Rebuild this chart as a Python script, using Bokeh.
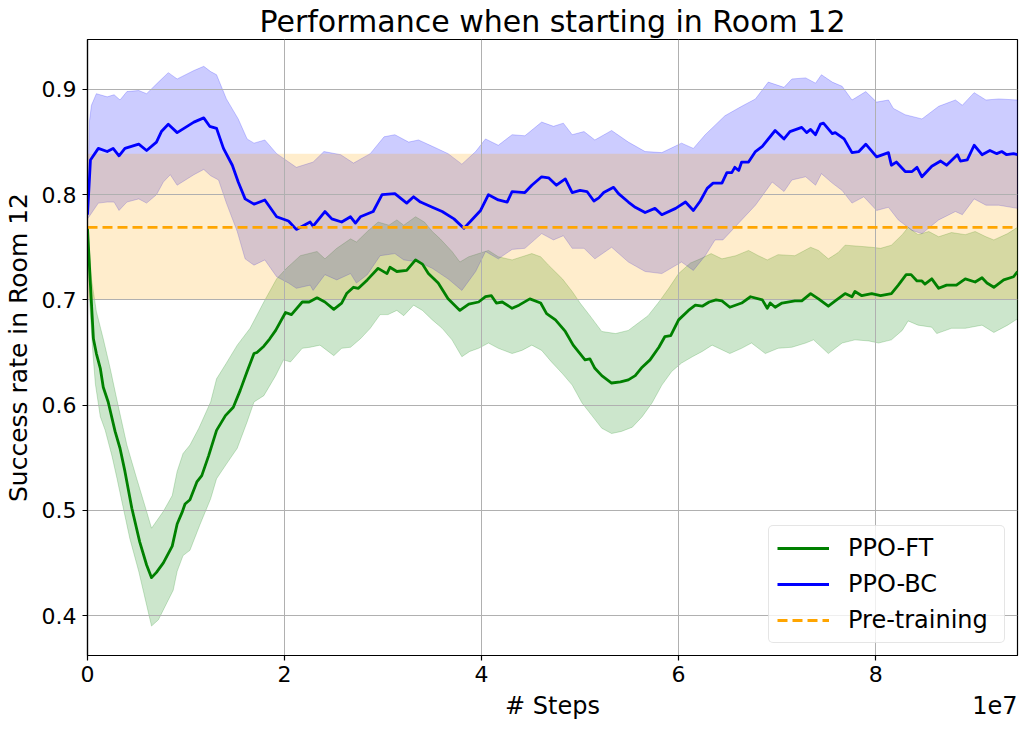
import numpy as np
from bokeh.plotting import figure
from bokeh.models import (Range1d, FixedTicker, CustomJSTickFormatter, Legend, LegendItem, LinearAxis)
from bokeh.embed import file_html
from bokeh.resources import INLINE

# ---------------- data (x in units of 1e7 steps) ----------------
ft_x = [0, 0.03, 0.06, 0.09, 0.13, 0.16, 0.21, 0.28, 0.33, 0.38, 0.45, 0.53, 0.60, 0.65, 0.70, 0.77, 0.86, 0.91,
        0.96, 0.99, 1.04, 1.11, 1.16, 1.23, 1.31, 1.40, 1.48, 1.55, 1.62, 1.69, 1.72, 1.79, 1.85, 1.91, 2.01, 2.07,
        2.18, 2.25, 2.33, 2.41, 2.50, 2.58, 2.63, 2.70, 2.75, 2.84, 2.95, 3.04, 3.07, 3.14, 3.24, 3.33, 3.40, 3.46,
        3.56, 3.66, 3.78, 3.87, 3.97, 4.04, 4.10, 4.15, 4.21, 4.31, 4.38, 4.49, 4.60, 4.66, 4.75, 4.85, 4.93, 5.05,
        5.10, 5.15, 5.22, 5.32, 5.41, 5.49, 5.56, 5.63, 5.71, 5.80, 5.86, 5.92, 6.00, 6.10, 6.17, 6.24, 6.31, 6.38,
        6.44, 6.52, 6.64, 6.73, 6.85, 6.90, 6.93, 6.98, 7.05, 7.18, 7.25, 7.34, 7.42, 7.52, 7.59, 7.69, 7.76, 7.79,
        7.86, 7.96, 8.05, 8.16, 8.23, 8.31, 8.36, 8.42, 8.47, 8.50, 8.57, 8.64, 8.72, 8.82, 8.91, 9.01, 9.08, 9.13,
        9.20, 9.30, 9.40, 9.44]
ft_mean = [0.768, 0.714, 0.663, 0.649, 0.635, 0.617, 0.603, 0.575, 0.559, 0.537, 0.502, 0.470, 0.448, 0.436, 0.441,
           0.450, 0.466, 0.487, 0.498, 0.506, 0.510, 0.527, 0.533, 0.552, 0.576, 0.590, 0.598, 0.614, 0.632, 0.649,
           0.650, 0.656, 0.663, 0.671, 0.688, 0.686, 0.698, 0.698, 0.702, 0.698, 0.691, 0.697, 0.706, 0.712, 0.711,
           0.719, 0.730, 0.725, 0.731, 0.727, 0.728, 0.738, 0.734, 0.725, 0.716, 0.701, 0.690, 0.696, 0.698, 0.703,
           0.704, 0.697, 0.698, 0.692, 0.695, 0.701, 0.697, 0.687, 0.681, 0.670, 0.657, 0.643, 0.644, 0.635, 0.628,
           0.621, 0.622, 0.624, 0.628, 0.636, 0.643, 0.655, 0.665, 0.666, 0.681, 0.690, 0.695, 0.694, 0.698, 0.700,
           0.699, 0.693, 0.697, 0.703, 0.700, 0.692, 0.697, 0.693, 0.697, 0.699, 0.699, 0.706, 0.701, 0.694, 0.699,
           0.706, 0.703, 0.708, 0.704, 0.706, 0.704, 0.706, 0.714, 0.724, 0.724, 0.718, 0.718, 0.715, 0.720, 0.711,
           0.714, 0.714, 0.720, 0.717, 0.721, 0.716, 0.712, 0.719, 0.722, 0.727]

ft_up_x = [0, 0.04, 0.09, 0.16, 0.23, 0.31, 0.40, 0.50, 0.59, 0.65, 0.77, 0.86, 0.91, 0.97, 1.04, 1.13, 1.25, 1.31,
           1.41, 1.52, 1.65, 1.79, 1.92, 2.02, 2.16, 2.33, 2.41, 2.53, 2.67, 2.73, 2.84, 2.95, 3.06, 3.14, 3.21, 3.33,
           3.42, 3.50, 3.58, 3.70, 3.78, 3.87, 3.97, 4.07, 4.17, 4.31, 4.41, 4.51, 4.60, 4.68, 4.82, 4.92, 5.00, 5.10,
           5.22, 5.36, 5.49, 5.59, 5.69, 5.80, 5.90, 6.00, 6.12, 6.22, 6.33, 6.44, 6.58, 6.71, 6.81, 6.90, 7.01, 7.18,
           7.34, 7.42, 7.52, 7.62, 7.69, 7.83, 7.96, 8.05, 8.16, 8.27, 8.33, 8.43, 8.54, 8.64, 8.77, 8.91, 9.01, 9.12,
           9.20, 9.34, 9.44]
ft_upper = [0.772, 0.720, 0.689, 0.663, 0.635, 0.600, 0.562, 0.530, 0.502, 0.483, 0.499, 0.514, 0.537, 0.554, 0.562,
            0.578, 0.603, 0.625, 0.640, 0.657, 0.673, 0.698, 0.720, 0.730, 0.742, 0.746, 0.739, 0.749, 0.758, 0.755,
            0.765, 0.774, 0.771, 0.776, 0.771, 0.779, 0.774, 0.765, 0.758, 0.746, 0.736, 0.741, 0.744, 0.747, 0.741,
            0.738, 0.741, 0.744, 0.741, 0.733, 0.720, 0.708, 0.697, 0.685, 0.670, 0.668, 0.671, 0.678, 0.685, 0.698,
            0.711, 0.725, 0.735, 0.739, 0.744, 0.739, 0.742, 0.747, 0.742, 0.738, 0.743, 0.742, 0.750, 0.747, 0.739,
            0.745, 0.752, 0.751, 0.750, 0.749, 0.752, 0.762, 0.769, 0.762, 0.765, 0.760, 0.764, 0.762, 0.765, 0.760,
            0.757, 0.763, 0.769]

ft_lo_x = [0, 0.02, 0.05, 0.08, 0.13, 0.18, 0.25, 0.30, 0.35, 0.43, 0.52, 0.60, 0.65, 0.72, 0.80, 0.87, 0.91, 0.97,
           1.04, 1.14, 1.25, 1.31, 1.41, 1.52, 1.62, 1.69, 1.79, 1.91, 1.99, 2.06, 2.18, 2.26, 2.36, 2.50, 2.58, 2.67,
           2.77, 2.87, 2.97, 3.05, 3.14, 3.21, 3.31, 3.40, 3.50, 3.60, 3.70, 3.80, 3.88, 3.97, 4.07, 4.17, 4.31, 4.41,
           4.51, 4.61, 4.71, 4.82, 4.92, 5.02, 5.12, 5.22, 5.32, 5.42, 5.53, 5.63, 5.73, 5.83, 5.93, 6.03, 6.14, 6.24,
           6.34, 6.52, 6.64, 6.74, 6.88, 7.01, 7.15, 7.29, 7.37, 7.52, 7.66, 7.79, 7.93, 8.03, 8.16, 8.27, 8.33, 8.43,
           8.57, 8.62, 8.77, 8.91, 9.08, 9.20, 9.34, 9.44]
ft_lower = [0.764, 0.700, 0.655, 0.620, 0.589, 0.576, 0.551, 0.530, 0.508, 0.473, 0.442, 0.410, 0.390, 0.396, 0.411,
            0.424, 0.442, 0.457, 0.462, 0.486, 0.511, 0.530, 0.544, 0.559, 0.584, 0.603, 0.609, 0.628, 0.643, 0.641,
            0.654, 0.655, 0.657, 0.647, 0.654, 0.655, 0.663, 0.673, 0.686, 0.686, 0.690, 0.685, 0.695, 0.690, 0.681,
            0.673, 0.662, 0.646, 0.651, 0.654, 0.659, 0.654, 0.649, 0.652, 0.657, 0.652, 0.641, 0.630, 0.619, 0.602,
            0.590, 0.578, 0.573, 0.575, 0.579, 0.589, 0.602, 0.619, 0.632, 0.640, 0.646, 0.651, 0.657, 0.649, 0.654,
            0.659, 0.649, 0.654, 0.655, 0.659, 0.662, 0.649, 0.659, 0.662, 0.661, 0.659, 0.662, 0.671, 0.680, 0.676,
            0.674, 0.668, 0.673, 0.673, 0.676, 0.669, 0.676, 0.682]

bc_x = [0, 0.03, 0.11, 0.20, 0.26, 0.32, 0.38, 0.52, 0.60, 0.70, 0.75, 0.82, 0.91, 1.08, 1.18, 1.24, 1.31, 1.38,
        1.47, 1.53, 1.60, 1.69, 1.80, 1.92, 2.04, 2.12, 2.26, 2.29, 2.41, 2.48, 2.58, 2.67, 2.72, 2.77, 2.90, 2.99,
        3.12, 3.24, 3.31, 3.38, 3.50, 3.60, 3.72, 3.82, 3.90, 3.99, 4.07, 4.17, 4.26, 4.31, 4.44, 4.51, 4.61, 4.68,
        4.76, 4.85, 4.92, 5.00, 5.07, 5.14, 5.19, 5.24, 5.34, 5.39, 5.49, 5.56, 5.66, 5.76, 5.83, 5.97, 6.07, 6.15,
        6.22, 6.29, 6.35, 6.44, 6.49, 6.54, 6.57, 6.61, 6.64, 6.71, 6.78, 6.85, 6.98, 7.07, 7.13, 7.25, 7.30, 7.34,
        7.39, 7.44, 7.47, 7.56, 7.59, 7.68, 7.76, 7.83, 7.90, 8.01, 8.13, 8.16, 8.21, 8.30, 8.37, 8.42, 8.47, 8.57,
        8.66, 8.72, 8.83, 8.86, 8.93, 9.00, 9.08, 9.16, 9.23, 9.28, 9.33, 9.40, 9.44]
bc_mean = [0.781, 0.833, 0.844, 0.841, 0.844, 0.837, 0.844, 0.848, 0.842, 0.850, 0.860, 0.867, 0.859, 0.869, 0.873,
           0.865, 0.863, 0.844, 0.828, 0.812, 0.796, 0.791, 0.795, 0.779, 0.775, 0.767, 0.774, 0.770, 0.784, 0.777,
           0.774, 0.779, 0.773, 0.779, 0.784, 0.800, 0.801, 0.792, 0.798, 0.793, 0.788, 0.784, 0.777, 0.768, 0.776,
           0.785, 0.800, 0.795, 0.793, 0.803, 0.802, 0.809, 0.817, 0.816, 0.809, 0.815, 0.802, 0.804, 0.803, 0.794,
           0.797, 0.802, 0.807, 0.801, 0.793, 0.788, 0.783, 0.787, 0.781, 0.787, 0.793, 0.785, 0.794, 0.806, 0.811,
           0.811, 0.821, 0.821, 0.826, 0.823, 0.831, 0.831, 0.841, 0.846, 0.861, 0.853, 0.860, 0.864, 0.859, 0.862,
           0.857, 0.867, 0.868, 0.858, 0.859, 0.853, 0.840, 0.841, 0.848, 0.836, 0.840, 0.828, 0.831, 0.822, 0.822,
           0.826, 0.817, 0.827, 0.832, 0.828, 0.838, 0.832, 0.833, 0.847, 0.838, 0.842, 0.839, 0.841, 0.838, 0.839,
           0.838]

bc_up_x = [0, 0.02, 0.04, 0.09, 0.20, 0.27, 0.33, 0.40, 0.52, 0.60, 0.72, 0.82, 0.91, 1.08, 1.18, 1.25, 1.31, 1.41,
           1.53, 1.62, 1.69, 1.80, 1.92, 2.12, 2.29, 2.40, 2.57, 2.70, 2.87, 3.01, 3.12, 3.26, 3.36, 3.50, 3.66, 3.80,
           3.94, 4.04, 4.17, 4.31, 4.44, 4.61, 4.73, 4.83, 4.92, 5.04, 5.15, 5.32, 5.49, 5.66, 5.83, 6.03, 6.15, 6.27,
           6.37, 6.47, 6.64, 6.78, 6.91, 7.07, 7.15, 7.29, 7.39, 7.45, 7.56, 7.66, 7.76, 7.90, 8.01, 8.13, 8.18, 8.30,
           8.47, 8.64, 8.81, 8.88, 9.00, 9.12, 9.25, 9.44]
bc_upper = [0.785, 0.870, 0.885, 0.896, 0.893, 0.895, 0.890, 0.898, 0.899, 0.896, 0.907, 0.916, 0.910, 0.918, 0.922,
            0.917, 0.914, 0.891, 0.872, 0.853, 0.849, 0.852, 0.839, 0.826, 0.831, 0.841, 0.838, 0.830, 0.839, 0.855,
            0.857, 0.850, 0.852, 0.846, 0.839, 0.829, 0.841, 0.853, 0.847, 0.857, 0.856, 0.869, 0.865, 0.868, 0.857,
            0.860, 0.852, 0.861, 0.850, 0.841, 0.840, 0.849, 0.844, 0.857, 0.866, 0.875, 0.884, 0.891, 0.907, 0.902,
            0.910, 0.911, 0.906, 0.914, 0.907, 0.903, 0.890, 0.898, 0.888, 0.890, 0.882, 0.876, 0.872, 0.884, 0.890,
            0.885, 0.897, 0.890, 0.891, 0.890]

bc_lo_x = [0, 0.03, 0.11, 0.20, 0.27, 0.32, 0.40, 0.52, 0.60, 0.70, 0.77, 0.84, 0.91, 1.08, 1.18, 1.25, 1.33, 1.41,
           1.52, 1.60, 1.69, 1.80, 1.92, 2.04, 2.12, 2.26, 2.29, 2.41, 2.53, 2.67, 2.73, 2.84, 2.97, 3.12, 3.21, 3.36,
           3.50, 3.66, 3.80, 3.94, 4.04, 4.17, 4.31, 4.44, 4.61, 4.73, 4.83, 4.92, 5.04, 5.15, 5.32, 5.49, 5.66, 5.83,
           6.03, 6.15, 6.27, 6.37, 6.45, 6.64, 6.78, 6.95, 7.07, 7.15, 7.29, 7.39, 7.45, 7.56, 7.66, 7.76, 7.88, 8.01,
           8.13, 8.23, 8.37, 8.47, 8.64, 8.81, 8.88, 9.00, 9.12, 9.25, 9.44]
bc_lower = [0.777, 0.781, 0.792, 0.793, 0.793, 0.785, 0.793, 0.796, 0.792, 0.800, 0.812, 0.819, 0.809, 0.819, 0.824,
            0.818, 0.814, 0.792, 0.765, 0.739, 0.733, 0.738, 0.722, 0.716, 0.711, 0.714, 0.709, 0.724, 0.719, 0.725,
            0.716, 0.724, 0.742, 0.744, 0.738, 0.736, 0.730, 0.720, 0.709, 0.727, 0.746, 0.739, 0.748, 0.749, 0.763,
            0.757, 0.761, 0.749, 0.749, 0.739, 0.750, 0.736, 0.727, 0.725, 0.736, 0.728, 0.742, 0.757, 0.757, 0.776,
            0.790, 0.812, 0.803, 0.814, 0.817, 0.809, 0.820, 0.811, 0.804, 0.792, 0.798, 0.785, 0.788, 0.776, 0.766,
            0.763, 0.776, 0.784, 0.781, 0.796, 0.790, 0.790, 0.787]

pre_mean = 0.769
pre_lower = 0.700
pre_upper = 0.839

x_ticks = [0, 2, 4, 6, 8]
y_ticks = [0.4, 0.5, 0.6, 0.7, 0.8, 0.9]
X_SCALE = 1e7
X_MAX = 9.44
Y_MIN, Y_MAX = 0.362, 0.9475
X_LABEL = "# Steps"
X_OFFSET_TEXT = "1e7"

GREEN = "#008000"
BLUE = "#0000ff"
ORANGE = "#ffa500"
FONT = "DejaVu Sans"


def sx(a):
    return list(np.asarray(a) * X_SCALE)


p = figure(frame_width=930, frame_height=616, output_backend="svg", toolbar_location=None,
           x_range=Range1d(0, X_MAX * X_SCALE), y_range=Range1d(Y_MIN, Y_MAX),
           title="Performance when starting in Room 12",
           min_border_left=81, min_border_right=2, min_border_top=35, min_border_bottom=10)
p.background_fill_color = "white"
p.border_fill_color = "white"
p.outline_line_color = "black"
p.outline_line_width = 1.2

p.title.text_font = FONT
p.title.text_font_size = "30px"
p.title.text_font_style = "normal"
p.title.text_color = "black"
p.title.align = "center"
p.title.standoff = 2

# bands (below grid)
p.patch(sx(ft_up_x + ft_lo_x[::-1]), ft_upper + ft_lower[::-1], fill_color=GREEN, fill_alpha=0.2,
        line_color=GREEN, line_alpha=0.2, line_width=1, level="image")
p.patch(sx(bc_up_x + bc_lo_x[::-1]), bc_upper + bc_lower[::-1], fill_color=BLUE, fill_alpha=0.2,
        line_color=BLUE, line_alpha=0.2, line_width=1, level="image")
p.varea(x=[0, X_MAX * X_SCALE], y1=[pre_lower] * 2, y2=[pre_upper] * 2, fill_color=ORANGE, fill_alpha=0.2,
        level="image")

# lines
r_ft = p.line(sx(ft_x), ft_mean, line_color=GREEN, line_width=2.8, line_join="round")
r_bc = p.line(sx(bc_x), bc_mean, line_color=BLUE, line_width=2.8, line_join="round")
r_pre = p.line([0, X_MAX * X_SCALE], [pre_mean] * 2, line_color=ORANGE, line_width=2.8, line_dash="10 5")

legend = Legend(items=[LegendItem(label="PPO-FT", renderers=[r_ft]),
                       LegendItem(label="PPO-BC", renderers=[r_bc]),
                       LegendItem(label="Pre-training", renderers=[r_pre])],
                location="bottom_right")
legend.label_text_font = FONT
legend.label_text_font_size = "24px"
legend.label_text_color = "black"
legend.glyph_width = 52
legend.glyph_height = 28
legend.label_height = 28
legend.label_width = 148
legend.label_standoff = 19
legend.spacing = 8
legend.padding = 8
legend.margin = 12
legend.border_line_color = "#cccccc"
legend.border_line_width = 1
legend.background_fill_alpha = 0.8
if "border_radius" in legend.properties():
    legend.border_radius = 5
p.add_layout(legend)

# grid
for g in (p.xgrid, p.ygrid):
    g.grid_line_color = "#b0b0b0"
    g.grid_line_width = 1
p.xgrid.ticker = FixedTicker(ticks=[t * X_SCALE for t in x_ticks])
p.ygrid.ticker = FixedTicker(ticks=y_ticks)

# main axes
xax = p.xaxis[0]
yax = p.yaxis[0]
xax.ticker = FixedTicker(ticks=[t * X_SCALE for t in x_ticks])
xax.formatter = CustomJSTickFormatter(code="return (tick / 1e7).toFixed(0);")
yax.ticker = FixedTicker(ticks=y_ticks)
yax.formatter = CustomJSTickFormatter(code="return tick.toFixed(1);")
for ax in (xax, yax):
    ax.axis_line_color = "black"
    ax.axis_line_width = 1.2
    ax.major_tick_line_color = "black"
    ax.major_tick_line_width = 1.2
    ax.major_tick_out = 5
    ax.major_tick_in = 0
    ax.minor_tick_line_color = None
    ax.major_label_text_font = FONT
    ax.major_label_text_font_size = "22px"
    ax.major_label_text_color = "black"
    ax.axis_label_text_font = FONT
    ax.axis_label_text_font_size = "25px"
    ax.axis_label_text_font_style = "normal"
    ax.axis_label_text_color = "black"
yax.axis_label = "Success rate in Room 12"
xax.major_label_standoff = 5
yax.major_label_standoff = 6
yax.axis_label_standoff = 6

# second, label-only axis row: "# Steps" centred, "1e7" at the right end (matplotlib offset text)
label_pos = [X_MAX / 2 * X_SCALE, (X_MAX - 0.23) * X_SCALE]
label_txt = [X_LABEL, X_OFFSET_TEXT]
lab_ax = LinearAxis(ticker=FixedTicker(ticks=label_pos),
                    formatter=CustomJSTickFormatter(
                        args=dict(pos=label_pos, txt=label_txt),
                        code="for (let i = 0; i < pos.length; i++) { if (Math.abs(tick - pos[i]) < 1e5) return txt[i]; } return '';"),
                    axis_line_color=None, major_tick_line_color=None, minor_tick_line_color=None,
                    major_tick_out=0, major_tick_in=0, major_label_standoff=7,
                    major_label_text_font=FONT, major_label_text_font_size="24px",
                    major_label_text_color="black")
p.add_layout(lab_ax, "below")

open("out.html", "w").write(file_html(p, INLINE))
